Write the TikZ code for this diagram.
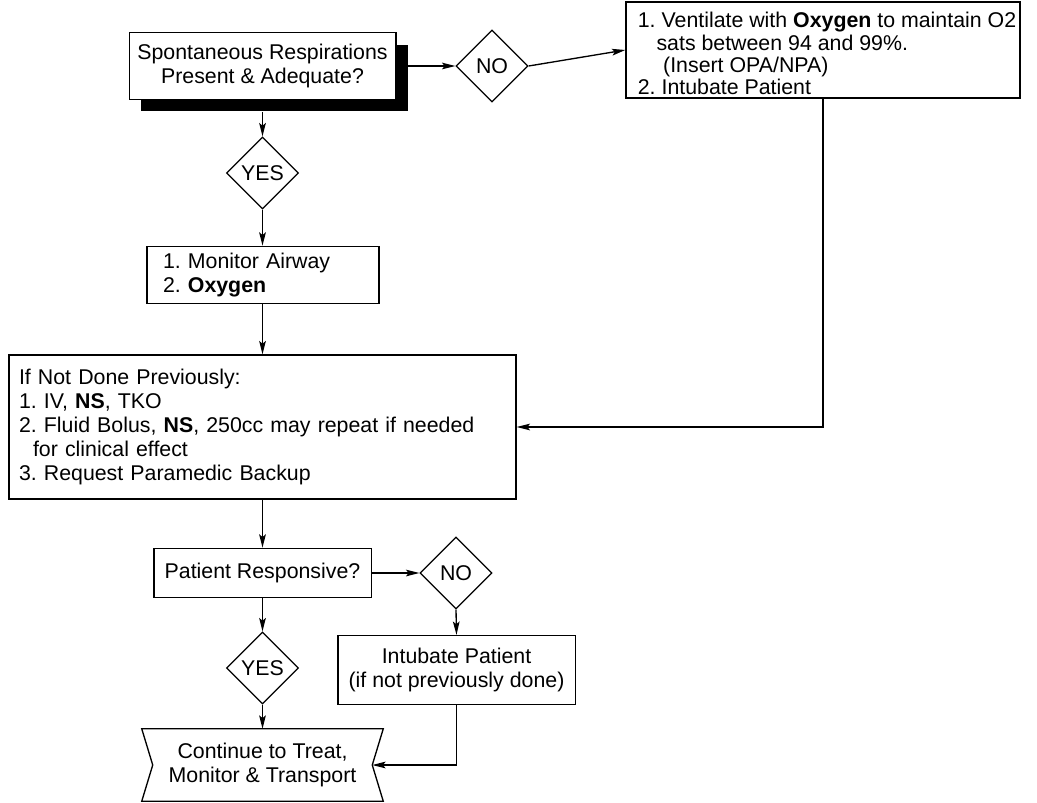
\documentclass[tikz,border=0pt]{standalone}
\usepackage{fontspec}
\setmainfont{Liberation Sans}
\frenchspacing
\usetikzlibrary{shapes.geometric,shadows,arrows.meta}

\tikzset{
  stepbox/.style={draw, line width=1pt, fill=white, inner sep=0pt},
  decision/.style={draw, diamond, line width=1pt, fill=white, inner sep=0pt,
                   minimum width=54pt, minimum height=54pt},
  flow/.style={-{Stealth[length=10pt,width=5pt,inset=2pt]}, line width=1pt},
}

\begin{document}
\begin{tikzpicture}[x=0.75pt, y=-0.75pt,
    font=\fontsize{16}{17.5}\selectfont]
  \useasboundingbox (0,0) rectangle (1037,802);

  % first question, with its heavy shadow
  \node[stepbox, align=center, minimum width=200pt, minimum height=50pt,
        drop shadow={shadow xshift=9pt, shadow yshift=-9pt, fill=black, opacity=1}]
    (resp) at (262.5,66) {Spontaneous Respirations\\Present \& Adequate?};
  \node[decision] (no1) at (492,66) {NO};
  \node[stepbox, align=left, minimum width=295.5pt, minimum height=72pt,
        font=\fontsize{16}{16.75}\selectfont]
    (vent) at (823,50) {%
      \rule{0pt}{17pt}\hspace*{6pt}1. Ventilate with \textbf{Oxygen} to maintain O2\\
      \hspace*{20pt}sats between 94 and 99\%.\\
      \hspace*{25pt}(Insert OPA/NPA)\\
      \hspace*{6pt}2. Intubate Patient};

  \node[decision] (yes1) at (262.5,173) {YES};
  \node[stepbox, align=left, text width=150pt, inner xsep=12pt,
        minimum height=43pt]
    (mon) at (263,275) {1. Monitor Airway\\2. \textbf{Oxygen}};

  \node[stepbox, align=left, text width=365.25pt, inner xsep=7.5pt,
        minimum height=108pt, font=\fontsize{16}{18}\selectfont]
    (prev) at (262.5,427) {%
      If Not Done Previously:\\
      1. IV, \textbf{NS}, TKO\\
      2. Fluid Bolus, \textbf{NS}, 250cc may repeat if needed\\
      \hspace*{10.5pt}for clinical effect\\
      3. Request Paramedic Backup};

  % second question
  \node[stepbox, align=center, minimum width=163pt, minimum height=37pt]
    (pat) at (262.5,573) {Patient Responsive?};
  \node[decision] (no2) at (456,573) {NO};
  \node[stepbox, align=center, minimum width=178pt, minimum height=51.75pt]
    (intu) at (456.5,670) {Intubate Patient\\(if not previously done)};
  \node[decision] (yes2) at (262.5,668) {YES};

  % end symbol, notched on both sides
  \node[align=center, minimum width=180.75pt, minimum height=54pt, inner sep=0pt]
    (cont) at (262.5,765) {Continue to Treat,\\Monitor \& Transport};
  \coordinate (notch) at ([xshift=-8.25pt]cont.east);
  \draw[line width=1pt] (cont.north west) -- (cont.north east) -- (notch)
    -- (cont.south east) -- (cont.south west) -- ([xshift=8.25pt]cont.west) -- cycle;

  % connectors
  \draw[flow] (resp.east) -- (no1.west);
  \draw[flow] (no1.east) -- (vent.west);
  \draw[flow] ([yshift=-9pt]resp.south) -- (yes1.north);
  \draw[flow] (yes1.south) -- (yes1.south |- mon.north);
  \draw[flow] (yes1.south |- mon.south) -- (yes1.south |- prev.north);
  \draw[flow] (vent.south) |- (prev.east);
  \draw[flow] (yes1.south |- prev.south) -- (pat.north);
  \draw[flow] (pat.east) -- (no2.west);
  \draw[flow] (no2.south) -- (intu.north);
  \draw[flow] (pat.south) -- (yes2.north);
  \draw[flow] (yes2.south) -- (yes2.south |- cont.north);
  \draw[flow] (intu.south) |- (notch);
\end{tikzpicture}
\end{document}
